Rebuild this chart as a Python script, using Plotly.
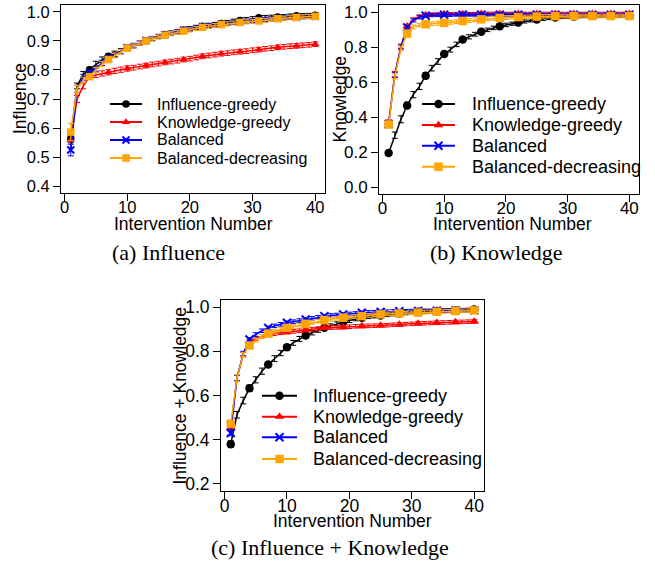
import plotly.graph_objects as go

# ---------------- data ----------------
X = list(range(1, 41))
SERIES = ["Influence-greedy", "Knowledge-greedy", "Balanced", "Balanced-decreasing"]
COLORS = ["#000000", "#FF0000", "#0000FF", "#FFA500"]
SYMBOLS = ["circle", "triangle-up", "x-thin", "square"]
CAPTIONS = ["(a) Influence", "(b) Knowledge", "(c) Influence + Knowledge"]
YTITLES = ["Influence", "Knowledge", "Influence + Knowledge"]
XTITLE = "Intervention Number"

# (a) Influence
INF_IG = [.564, .745, .785, .801, .818, .835, .847, .856, .865, .875, .883, .892, .901, .908, .915, .922, .927, .933, .938, .942,
          .947, .951, .954, .957, .960, .964, .968, .971, .974, .977, .980, .981, .982, .983, .984, .986, .987, .988, .988, .989]
INF_KG = [.558, .700, .745, .777, .783, .788, .792, .797, .801, .805, .808, .812, .815, .819, .822, .826, .829, .832, .836, .839,
          .843, .847, .850, .853, .856, .858, .861, .863, .865, .868, .870, .873, .875, .878, .880, .882, .883, .885, .887, .889]
INF_BA = [.524, .735, .775, .790, .805, .825, .840, .852, .865, .877, .885, .893, .902, .909, .916, .922, .927, .932, .937, .941,
          .945, .949, .952, .955, .958, .961, .964, .966, .968, .970, .972, .974, .976, .978, .979, .981, .982, .983, .984, .985]
INF_BD = [.586, .735, .765, .777, .800, .820, .836, .850, .863, .875, .883, .892, .900, .907, .914, .920, .925, .930, .934, .938,
          .943, .947, .950, .953, .957, .959, .962, .964, .966, .967, .969, .971, .974, .977, .978, .980, .981, .983, .984, .985]
INF_IG_E = [.015, .010, .010, .009, .012, .010, .009, .009, .009, .008] + [.007] * 30
INF_KG_E = [.025, .012, .010, .009, .009, .009, .009, .009, .009, .009] + [.008] * 30
INF_BA_E = [.020, .012, .010, .009, .009, .009, .008, .008, .008, .008] + [.007] * 30
INF_BD_E = [.030, .012, .010, .009, .009, .009, .008, .008, .008, .008] + [.007] * 30

# (b) Knowledge
KNO_IG = [.194, .296, .387, .466, .528, .575, .636, .679, .717, .760, .785, .815, .843, .858, .873, .887, .898, .909, .919, .926,
          .933, .940, .946, .952, .957, .961, .965, .968, .971, .973, .975, .976, .977, .978, .978, .979, .979, .979, .980, .980]
KNO_KG = [.368, .645, .805, .918, .958, .975, .983, .986, .987, .988, .988, .989, .989, .989, .989, .990, .990, .990, .990, .990,
          .990, .990, .990, .990, .990, .990, .990, .990, .990, .990, .990, .990, .990, .990, .990, .990, .990, .990, .990, .990]
KNO_BA = [.360, .640, .800, .912, .952, .970, .979, .982, .983, .984, .984, .985, .985, .985, .985, .985, .985, .985, .985, .985,
          .985, .985, .985, .985, .985, .985, .985, .985, .985, .985, .985, .985, .985, .985, .985, .985, .985, .985, .985, .985]
KNO_BD = [.357, .632, .790, .877, .915, .925, .930, .933, .936, .938, .941, .945, .949, .952, .955, .958, .961, .964, .966, .968,
          .970, .971, .972, .973, .974, .975, .976, .976, .977, .977, .977, .977, .977, .977, .977, .977, .977, .977, .977, .977]
KNO_IG_E = [.012, .018, .020, .018, .018, .018, .017, .016, .016, .015, .014, .013, .012, .012, .011, .011, .010, .010, .010, .010] + [.009] * 20
KNO_KG_E = [.015, .015, .012, .010] + [.009] * 36
KNO_BA_E = [.015, .015, .012, .010] + [.009] * 36
KNO_BD_E = [.015, .015, .012, .012] + [.011] * 16 + [.010] * 20

# (c) Influence + Knowledge
IK_IG = [.380, .513, .577, .633, .671, .710, .740, .767, .792, .818, .838, .856, .871, .884, .896, .906, .915, .924, .932, .939,
         .946, .952, .956, .959, .962, .965, .968, .971, .974, .977, .979, .980, .981, .982, .983, .984, .985, .986, .987, .989]
IK_KG = [.452, .680, .785, .845, .858, .868, .876, .880, .884, .887, .890, .893, .896, .900, .903, .906, .907, .908, .909, .911,
         .913, .914, .915, .916, .917, .918, .920, .921, .923, .924, .926, .927, .928, .929, .930, .931, .932, .933, .934, .935]
IK_BA = [.430, .680, .790, .853, .876, .893, .906, .915, .922, .929, .934, .939, .944, .949, .954, .959, .962, .964, .967, .969,
         .971, .974, .976, .977, .978, .979, .980, .981, .981, .982, .982, .983, .983, .984, .984, .984, .985, .985, .985, .985]
IK_BD = [.472, .680, .785, .826, .850, .868, .880, .890, .899, .906, .912, .918, .924, .930, .936, .941, .945, .949, .952, .955,
         .957, .959, .962, .965, .967, .969, .970, .971, .972, .974, .975, .977, .978, .979, .980, .981, .982, .983, .984, .985]
IK_IG_E = [.015, .015, .015, .014, .014, .014, .013, .013, .012, .012, .011, .011, .010, .010, .010, .009, .009, .009, .009, .009] + [.008] * 20
IK_KG_E = [.012, .015, .010, .009] + [.008] * 36
IK_BA_E = [.012, .012, .010, .009] + [.008] * 36
IK_BD_E = [.015, .015, .010, .009] + [.008] * 36

PANELS = [
    dict(vals=[INF_IG, INF_KG, INF_BA, INF_BD], errs=[INF_IG_E, INF_KG_E, INF_BA_E, INF_BD_E],
         yrange=[0.376, 1.024], ytick0=0.4, ydtick=0.1),
    dict(vals=[KNO_IG, KNO_KG, KNO_BA, KNO_BD], errs=[KNO_IG_E, KNO_KG_E, KNO_BA_E, KNO_BD_E],
         yrange=[-0.04, 1.04], ytick0=0.0, ydtick=0.2),
    dict(vals=[IK_IG, IK_KG, IK_BA, IK_BD], errs=[IK_IG_E, IK_KG_E, IK_BA_E, IK_BD_E],
         yrange=[0.168, 1.032], ytick0=0.2, ydtick=0.2),
]

# ---------------- layout (pixels) ----------------
W, H = 655, 561
BOXES = [(61, 325, 5, 193), (379, 639, 5, 194), (221, 484, 300, 491)]   # left, right, top, bottom
TICKFONT = [16.5, 17, 17.5]
LEGFONT = [16, 18, 18]
MSIZE = [7.5, 8.5, 8.5]
LEGEND_POS = [  # line x0, x1, text x, row ys
    (110, 142, 155, [104, 122, 140, 158]),
    (422, 455, 470, [104, 125, 145.7, 166.7]),
    (262, 297, 311, [395.7, 416.7, 437.3, 459]),
]
XTITLE_POS = [(193, 223.5), (512, 224.5), (352.5, 521)]
YTITLE_POS = [(20, 99), (339, 99.5), (179, 395.5)]
CAP_POS = [(169, 252.5), (497, 252.5), (329.5, 547.5)]
SANS = "Liberation Sans, Arial, sans-serif"
SERIF = "Liberation Serif, Times New Roman, serif"

fig = go.Figure()

for p, panel in enumerate(PANELS):
    ax = "" if p == 0 else str(p + 1)
    for s in range(4):
        y = panel["vals"][s]
        fig.add_trace(go.Scatter(
            x=X, y=y, mode="lines", xaxis="x" + ax, yaxis="y" + ax, showlegend=False,
            line=dict(color=COLORS[s], width=1.5),
            error_y=dict(type="data", array=panel["errs"][s], color=COLORS[s], thickness=1, width=3),
        ))
        mk = dict(symbol=SYMBOLS[s], size=MSIZE[p] if s != 2 else MSIZE[p] - 0.5, color=COLORS[s])
        if s == 2:
            mk["line"] = dict(color=COLORS[s], width=2)
        fig.add_trace(go.Scatter(
            x=X[::3], y=y[::3], mode="markers", xaxis="x" + ax, yaxis="y" + ax,
            showlegend=False, marker=mk,
        ))

# legend keys on a pixel-coordinate overlay axis
for p in range(3):
    x0, x1, tx, rows = LEGEND_POS[p]
    for s in range(4):
        yy = rows[s]
        fig.add_trace(go.Scatter(x=[x0, x1], y=[yy, yy], mode="lines", xaxis="x4", yaxis="y4",
                                 showlegend=False, line=dict(color=COLORS[s], width=2)))
        mk = dict(symbol=SYMBOLS[s], size=MSIZE[p] if s != 2 else MSIZE[p] - 0.5, color=COLORS[s])
        if s == 2:
            mk["line"] = dict(color=COLORS[s], width=2)
        fig.add_trace(go.Scatter(x=[(x0 + x1) / 2], y=[yy], mode="markers", xaxis="x4", yaxis="y4",
                                 showlegend=False, marker=mk))
        fig.add_annotation(x=tx / W, y=1 - yy / H, xref="paper", yref="paper", text=SERIES[s],
                           showarrow=False, xanchor="left", yanchor="middle",
                           font=dict(family=SANS, size=LEGFONT[p], color="black"))

layout = dict(width=W, height=H, margin=dict(l=0, r=0, t=0, b=0), paper_bgcolor="white",
              plot_bgcolor="rgba(0,0,0,0)", showlegend=False)

for p, panel in enumerate(PANELS):
    ax = "" if p == 0 else str(p + 1)
    l, r, t, b = BOXES[p]
    common = dict(showline=True, mirror=True, linecolor="black", linewidth=1, ticks="outside",
                  ticklen=7, tickcolor="black", tickwidth=1, showgrid=False, zeroline=False,
                  automargin=False,
                  tickfont=dict(family=SANS, size=TICKFONT[p], color="black"))
    layout["xaxis" + ax] = dict(common, domain=[l / W, r / W], range=[-0.56, 41.56], tickmode="linear",
                                tick0=0, dtick=10, anchor="y" + ax, ticklabelstandoff=-8)
    layout["yaxis" + ax] = dict(common, domain=[1 - b / H, 1 - t / H], range=panel["yrange"], tickmode="linear",
                                tick0=panel["ytick0"], dtick=panel["ydtick"], tickformat=".1f", anchor="x" + ax)
    # axis titles
    xt, yt = XTITLE_POS[p]
    fig.add_annotation(x=xt / W, y=1 - yt / H, xref="paper", yref="paper", text=XTITLE, showarrow=False,
                       xanchor="center", yanchor="middle", font=dict(family=SANS, size=17.5, color="black"))
    xt, yt = YTITLE_POS[p]
    fig.add_annotation(x=xt / W, y=1 - yt / H, xref="paper", yref="paper", text=YTITLES[p], showarrow=False,
                       textangle=-90, xanchor="center", yanchor="middle",
                       font=dict(family=SANS, size=17.5, color="black"))

layout["xaxis4"] = dict(domain=[0, 1], range=[0, W], visible=False, anchor="y4", fixedrange=True)
layout["yaxis4"] = dict(domain=[0, 1], range=[H, 0], visible=False, anchor="x4", fixedrange=True)

fig.update_layout(**layout)

for p in range(3):
    cx, cy = CAP_POS[p]
    fig.add_annotation(x=cx / W, y=1 - cy / H, xref="paper", yref="paper", text=CAPTIONS[p],
                       showarrow=False, xanchor="center", yanchor="middle",
                       font=dict(family=SERIF, size=22, color="black"))

fig.write_html("out.html", config={"displayModeBar": False},
               post_script="document.body.style.margin='0';document.body.style.overflow='hidden';")
